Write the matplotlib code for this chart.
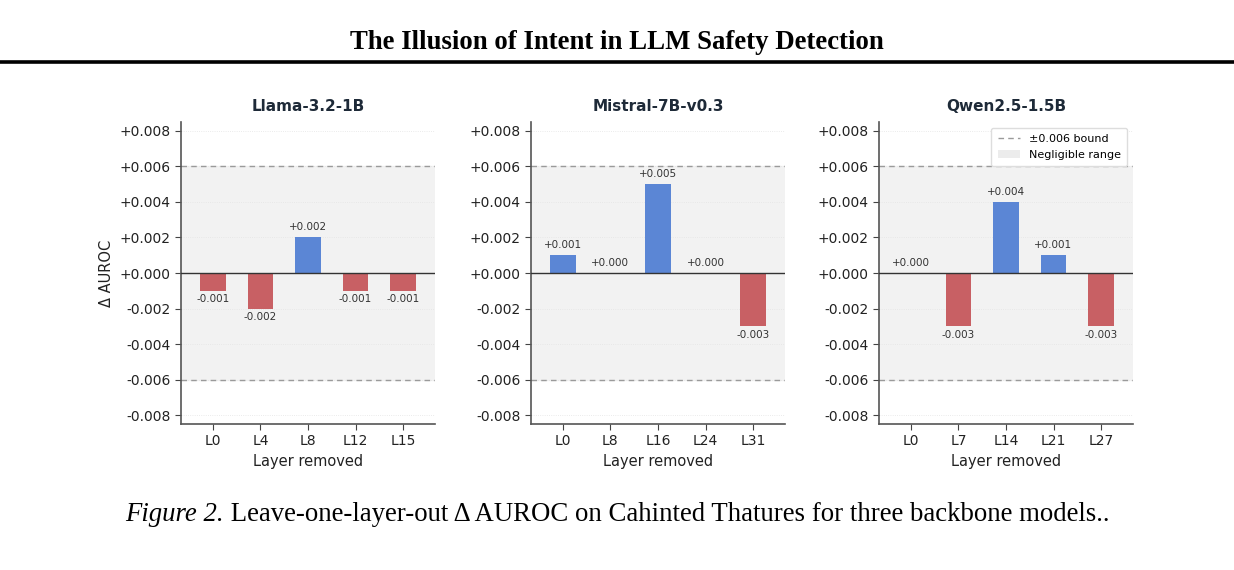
import matplotlib

matplotlib.use("Agg")
import matplotlib.pyplot as plt
from matplotlib.lines import Line2D
from matplotlib.patches import Patch

MODELS = ["Llama-3.2-1B", "Mistral-7B-v0.3", "Qwen2.5-1.5B"]
LAYERS = [
    ["L0", "L4", "L8", "L12", "L15"],
    ["L0", "L8", "L16", "L24", "L31"],
    ["L0", "L7", "L14", "L21", "L27"],
]
DELTAS = [
    [-0.001, -0.002, 0.002, -0.001, -0.001],
    [0.001, 0.000, 0.005, 0.000, -0.003],
    [0.000, -0.003, 0.004, 0.001, -0.003],
]
BOUND = 0.006
YTICKS = [-0.008, -0.006, -0.004, -0.002, 0.0, 0.002, 0.004, 0.006, 0.008]

BLEU = "#5B86D5"
ROUGE = "#C86064"
GRIS = "#9A9A9A"
TITRE = "#1E2A38"
SERIF = "Liberation Serif"

fig = plt.figure(figsize=(12.34, 5.70), dpi=100)
fig.patch.set_facecolor("white")

# en-tête façon article
fig.text(0.5, 0.926, "The Illusion of Intent in LLM Safety Detection",
         ha="center", va="center", family=SERIF,
         fontsize=19.3, fontweight="bold")
fig.add_artist(Line2D([0, 1], [0.891, 0.891], color="black", lw=2.6,
                      transform=fig.transFigure))

lefts = [0.1467, 0.4303, 0.7123]
for k, (nom, couches, vals) in enumerate(zip(MODELS, LAYERS, DELTAS)):
    ax = fig.add_axes([lefts[k], 0.256, 0.2058, 0.530])
    x = range(len(couches))
    ax.axhspan(-BOUND, BOUND, color="#F2F2F2", zorder=0)
    for yt in YTICKS:
        ax.axhline(yt, color="#E4E4E4", lw=0.6, ls=":", zorder=0.5)
    ax.axhline(BOUND, color=GRIS, lw=1.0, ls=(0, (4, 3)), zorder=1)
    ax.axhline(-BOUND, color=GRIS, lw=1.0, ls=(0, (4, 3)), zorder=1)
    couleurs = [BLEU if v > 0 else ROUGE for v in vals]
    ax.bar(list(x), vals, width=0.54, color=couleurs, zorder=2)
    ax.axhline(0, color="#333333", lw=1.0, zorder=3)
    for xx, v in zip(x, vals):
        if v >= 0:
            ax.text(xx, v + 0.0003, f"{v:+.3f}", ha="center", va="bottom",
                    fontsize=7.5, color="#333333")
        else:
            ax.text(xx, v - 0.0002, f"{v:+.3f}", ha="center", va="top",
                    fontsize=7.5, color="#333333")
    ax.set_xlim(-0.67, len(couches) - 0.33)
    ax.set_ylim(-0.0085, 0.0085)
    ax.set_yticks(YTICKS, [f"{t:+.3f}" for t in YTICKS])
    ax.set_xticks(list(x), couches)
    ax.tick_params(labelsize=10, length=4, width=0.8,
                   colors="#444444", labelcolor="#222222")
    ax.spines[["top", "right"]].set_visible(False)
    for s in ["left", "bottom"]:
        ax.spines[s].set_color("#555555")
        ax.spines[s].set_linewidth(1.2)
    ax.set_title(nom, fontsize=11, fontweight="bold", color=TITRE, pad=8)
    ax.set_xlabel("Layer removed", fontsize=10.5, color="#222222")
    if k == 0:
        ax.set_ylabel("Δ AUROC", fontsize=10.5, color="#222222")
    if k == 2:
        poignees = [Line2D([0], [0], color=GRIS, lw=1.0, ls=(0, (4, 3))),
                    Patch(facecolor="#ECECEC", edgecolor="none")]
        ax.legend(poignees, ["±0.006 bound", "Negligible range"],
                  loc="upper right", fontsize=8, framealpha=1,
                  edgecolor="#DDDDDD", fancybox=True, borderpad=0.6,
                  handlelength=2.0)

# légende de figure : partie italique + suite, centrées ensemble
y_cap = 0.097
t1 = fig.text(0, y_cap, "Figure 2.", ha="left", va="center", family=SERIF,
              style="italic", fontsize=19.3)
t2 = fig.text(0, y_cap, " Leave-one-layer-out Δ AUROC on Cahinted Thatures"
              " for three backbone models..", ha="left", va="center",
              family=SERIF, fontsize=19.3)
rend = fig.canvas.get_renderer()
w1 = t1.get_window_extent(rend).width
w2 = t2.get_window_extent(rend).width
W = fig.bbox.width
x0 = (W - w1 - w2) / 2
t1.set_x(x0 / W)
t2.set_x((x0 + w1) / W)

fig.savefig("out.png", dpi=100, facecolor="white")
